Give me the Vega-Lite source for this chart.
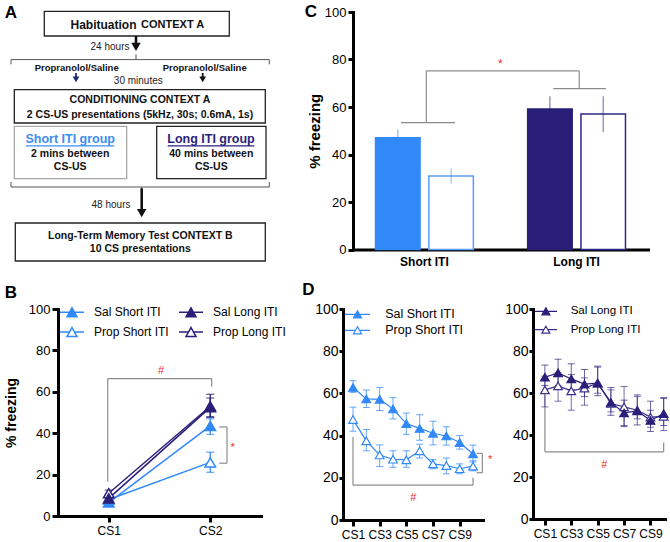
{
"$schema": "https://vega.github.io/schema/vega-lite/v6.json",
"background": "white",
"padding": {"left": 4, "top": 3, "right": 4, "bottom": 2},
"config": {
  "font": "Liberation Sans",
  "view": {"stroke": null},
  "axis": {"grid": false, "domainColor": "#000000", "domainWidth": 3, "domainCap": "square", "tickColor": "#000000", "tickWidth": 3, "tickSize": 6, "labelColor": "#000000", "titleColor": "#000000", "labelFont": "Liberation Sans", "titleFont": "Liberation Sans", "labelFlush": false, "labelOverlap": false},
  "legend": {"labelFont": "Liberation Sans", "labelColor": "#000000", "padding": 0, "symbolOpacity": 1},
  "text": {"font": "Liberation Sans"}
},
"datasets": {
  "a_boxes": [
    {"x": 43.3, "x2": 228.3, "y": 11, "y2": 35.7, "tone": "dark"},
    {"x": 13.3, "x2": 264.3, "y": 89.3, "y2": 122.7, "tone": "dark"},
    {"x": 13.3, "x2": 125.7, "y": 126, "y2": 178.3, "tone": "light"},
    {"x": 155.7, "x2": 265, "y": 126, "y2": 178.3, "tone": "dark"},
    {"x": 14.3, "x2": 264.3, "y": 222.7, "y2": 260.7, "tone": "dark"}
  ],
  "a_lines": [
    {"x": 135, "x2": 135, "y": 35.7, "y2": 43, "part": "arrow"},
    {"x": 140.7, "x2": 140.7, "y": 188, "y2": 209, "part": "arrow"},
    {"x": 10, "x2": 268.3, "y": 59.3, "y2": 59.3, "part": "brace"},
    {"x": 10, "x2": 10, "y": 59.3, "y2": 64, "part": "brace"},
    {"x": 268.3, "x2": 268.3, "y": 59.3, "y2": 64, "part": "brace"},
    {"x": 135, "x2": 135, "y": 54, "y2": 59.3, "part": "brace"},
    {"x": 10, "x2": 268.3, "y": 186.7, "y2": 186.7, "part": "brace"},
    {"x": 10, "x2": 10, "y": 181.7, "y2": 186.7, "part": "brace"},
    {"x": 268.3, "x2": 268.3, "y": 181.7, "y2": 186.7, "part": "brace"},
    {"x": 140.7, "x2": 140.7, "y": 186.7, "y2": 190, "part": "brace"},
    {"x": 75, "x2": 75, "y": 72.7, "y2": 77, "part": "navy"},
    {"x": 201.7, "x2": 201.7, "y": 72.7, "y2": 77, "part": "small"},
    {"x": 25, "x2": 113.3, "y": 145.5, "y2": 145.5, "part": "ul_short"},
    {"x": 166.7, "x2": 253.3, "y": 145.5, "y2": 145.5, "part": "ul_long"}
  ],
  "a_heads": [
    {"x": 135, "y": 46.5, "part": "big"},
    {"x": 140.7, "y": 212.8, "part": "big"},
    {"x": 75, "y": 79, "part": "navy"},
    {"x": 201.7, "y": 79, "part": "small"}
  ],
  "a_text": [
    {"x": 10, "y": 12.5, "text": "A", "style": "letter"},
    {"x": 102.5, "y": 24.5, "text": "Habituation", "style": "big"},
    {"x": 171.7, "y": 24.5, "text": "CONTEXT A", "style": "bold11"},
    {"x": 109, "y": 46.5, "text": "24 hours", "style": "plain"},
    {"x": 75.7, "y": 67.8, "text": "Propranolol/Saline", "style": "prop"},
    {"x": 203.7, "y": 67.8, "text": "Propranolol/Saline", "style": "prop"},
    {"x": 137.3, "y": 80.3, "text": "30 minutes", "style": "plain"},
    {"x": 139, "y": 100, "text": "CONDITIONING CONTEXT A", "style": "bold"},
    {"x": 139, "y": 114.5, "text": "2 CS-US presentations (5kHz, 30s; 0.6mA, 1s)", "style": "bold"},
    {"x": 69.2, "y": 139, "text": "Short ITI group", "style": "hshort"},
    {"x": 210, "y": 139, "text": "Long ITI group", "style": "hlong"},
    {"x": 69.2, "y": 154, "text": "2 mins between", "style": "bold"},
    {"x": 69.2, "y": 166.5, "text": "CS-US", "style": "bold"},
    {"x": 210.3, "y": 154, "text": "40 mins between", "style": "bold"},
    {"x": 210.3, "y": 166.5, "text": "CS-US", "style": "bold"},
    {"x": 110, "y": 205, "text": "48 hours", "style": "plain"},
    {"x": 139.3, "y": 235.8, "text": "Long-Term Memory Test CONTEXT B", "style": "bold"},
    {"x": 139.3, "y": 248.5, "text": "10 CS presentations", "style": "bold"}
  ],
  "c_bars": [
    {"group": "Short ITI", "drug": "Sal", "series": "Sal Short ITI", "mean": 47.1, "lo": 43.7, "hi": 50.5},
    {"group": "Short ITI", "drug": "Prop", "series": "Prop Short ITI", "mean": 31.0, "lo": 27.8, "hi": 34.1},
    {"group": "Long ITI", "drug": "Sal", "series": "Sal Long ITI", "mean": 59.2, "lo": 53.7, "hi": 64.5},
    {"group": "Long ITI", "drug": "Prop", "series": "Prop Long ITI", "mean": 57.1, "lo": 49.5, "hi": 64.5}
  ],
  "c_brackets": [
    {"x": 0.325, "x2": 0.692, "y": 53.4, "y2": 53.4},
    {"x": 0.497, "x2": 0.497, "y": 53.4, "y2": 75.2},
    {"x": 0.497, "x2": 1.534, "y": 75.2, "y2": 75.2},
    {"x": 1.534, "x2": 1.534, "y": 75.2, "y2": 67.7},
    {"x": 1.358, "x2": 1.715, "y": 67.7, "y2": 67.7}
  ],
  "c_notes": [{"x": 0.999, "y": 78.2, "text": "*"}],
  "c_letter": [{"x": -0.285, "y": 100, "text": "C"}],
  "b_series": [
    {"series": "Prop Short ITI", "x": 1, "y": 8, "lo": 6.5, "hi": 9.5},
    {"series": "Prop Short ITI", "x": 2, "y": 25.9, "lo": 21.1, "hi": 30.8},
    {"series": "Prop Long ITI", "x": 1, "y": 11, "lo": 9, "hi": 12.5},
    {"series": "Prop Long ITI", "x": 2, "y": 53, "lo": 48, "hi": 57},
    {"series": "Sal Short ITI", "x": 1, "y": 6.5, "lo": 5, "hi": 8},
    {"series": "Sal Short ITI", "x": 2, "y": 43.5, "lo": 39.4, "hi": 47},
    {"series": "Sal Long ITI", "x": 1, "y": 8.5, "lo": 7, "hi": 10},
    {"series": "Sal Long ITI", "x": 2, "y": 52.5, "lo": 47.6, "hi": 58.8}
  ],
  "b_brackets": [
    {"x": 0.99, "x2": 0.99, "y": 16.5, "y2": 66.4},
    {"x": 0.99, "x2": 2.014, "y": 66.4, "y2": 66.4},
    {"x": 2.014, "x2": 2.014, "y": 66.4, "y2": 62.4},
    {"x": 2.089, "x2": 2.165, "y": 43, "y2": 43},
    {"x": 2.165, "x2": 2.165, "y": 43, "y2": 25.5},
    {"x": 2.089, "x2": 2.165, "y": 25.5, "y2": 25.5}
  ],
  "b_notes": [{"x": 1.515, "y": 70, "text": "#"}, {"x": 2.221, "y": 33, "text": "*"}],
  "b_letter": [{"x": 0.037, "y": 107.5, "text": "B"}],
  "dl_series": [
    {"series": "Prop Short ITI", "x": 1, "y": 47.6, "lo": 42.1, "hi": 53.5},
    {"series": "Prop Short ITI", "x": 2, "y": 37.5, "lo": 32.8, "hi": 42.9},
    {"series": "Prop Short ITI", "x": 3, "y": 30.8, "lo": 25.3, "hi": 35.6},
    {"series": "Prop Short ITI", "x": 4, "y": 28.8, "lo": 25.0, "hi": 32.8},
    {"series": "Prop Short ITI", "x": 5, "y": 28.5, "lo": 25.0, "hi": 32.8},
    {"series": "Prop Short ITI", "x": 6, "y": 32.8, "lo": 29.4, "hi": 35.9},
    {"series": "Prop Short ITI", "x": 7, "y": 26.6, "lo": 24.3, "hi": 28.6},
    {"series": "Prop Short ITI", "x": 8, "y": 25.8, "lo": 21.9, "hi": 29.4},
    {"series": "Prop Short ITI", "x": 9, "y": 24.3, "lo": 21.9, "hi": 26.6},
    {"series": "Prop Short ITI", "x": 10, "y": 25.5, "lo": 23.3, "hi": 28.1},
    {"series": "Sal Short ITI", "x": 1, "y": 62.8, "lo": 60.5, "hi": 66},
    {"series": "Sal Short ITI", "x": 2, "y": 57.4, "lo": 53.3, "hi": 61.6},
    {"series": "Sal Short ITI", "x": 3, "y": 57.2, "lo": 51.9, "hi": 62.8},
    {"series": "Sal Short ITI", "x": 4, "y": 52.6, "lo": 47.9, "hi": 58},
    {"series": "Sal Short ITI", "x": 5, "y": 45.7, "lo": 40.6, "hi": 50.7},
    {"series": "Sal Short ITI", "x": 6, "y": 43.4, "lo": 37.8, "hi": 49.9},
    {"series": "Sal Short ITI", "x": 7, "y": 41.1, "lo": 35.6, "hi": 46.8},
    {"series": "Sal Short ITI", "x": 8, "y": 39.8, "lo": 35.5, "hi": 44.2},
    {"series": "Sal Short ITI", "x": 9, "y": 36.7, "lo": 33.6, "hi": 40.1},
    {"series": "Sal Short ITI", "x": 10, "y": 31.3, "lo": 27.4, "hi": 35.5}
  ],
  "dl_brackets": [
    {"x": 1, "x2": 1, "y": 39.3, "y2": 16.5},
    {"x": 1, "x2": 10, "y": 16.5, "y2": 16.5},
    {"x": 10, "x2": 10, "y": 16.5, "y2": 20},
    {"x": 10.27, "x2": 10.7, "y": 31.6, "y2": 31.6},
    {"x": 10.7, "x2": 10.7, "y": 31.6, "y2": 22.4},
    {"x": 10.27, "x2": 10.7, "y": 22.4, "y2": 22.4}
  ],
  "dl_notes": [{"x": 5.52, "y": 10.3, "text": "#"}, {"x": 11.28, "y": 28.5, "text": "*"}],
  "dl_letter": [{"x": -2.34, "y": 108.8, "text": "D"}],
  "dr_series": [
    {"series": "Prop Long ITI", "x": 1, "y": 61.5, "lo": 53.4, "hi": 68},
    {"series": "Prop Long ITI", "x": 2, "y": 63.4, "lo": 56.1, "hi": 69.6},
    {"series": "Prop Long ITI", "x": 3, "y": 61, "lo": 51.8, "hi": 68.8},
    {"series": "Prop Long ITI", "x": 4, "y": 62.3, "lo": 54.2, "hi": 67.2},
    {"series": "Prop Long ITI", "x": 5, "y": 64.7, "lo": 59.9, "hi": 72.3},
    {"series": "Prop Long ITI", "x": 6, "y": 55, "lo": 51, "hi": 61.5},
    {"series": "Prop Long ITI", "x": 7, "y": 53.4, "lo": 44.5, "hi": 63.1},
    {"series": "Prop Long ITI", "x": 8, "y": 51.8, "lo": 47.7, "hi": 58.3},
    {"series": "Prop Long ITI", "x": 9, "y": 48.5, "lo": 43.7, "hi": 56.1},
    {"series": "Prop Long ITI", "x": 10, "y": 48.9, "lo": 42.1, "hi": 57.4},
    {"series": "Sal Long ITI", "x": 1, "y": 67.5, "lo": 63.6, "hi": 73.3},
    {"series": "Sal Long ITI", "x": 2, "y": 69.6, "lo": 63.6, "hi": 76.1},
    {"series": "Sal Long ITI", "x": 3, "y": 66.7, "lo": 61.5, "hi": 73.9},
    {"series": "Sal Long ITI", "x": 4, "y": 64.2, "lo": 58.3, "hi": 71.2},
    {"series": "Sal Long ITI", "x": 5, "y": 64.7, "lo": 58.7, "hi": 72.8},
    {"series": "Sal Long ITI", "x": 6, "y": 55.5, "lo": 49.4, "hi": 62.6},
    {"series": "Sal Long ITI", "x": 7, "y": 50.5, "lo": 44, "hi": 56.6},
    {"series": "Sal Long ITI", "x": 8, "y": 51.5, "lo": 44.8, "hi": 59.1},
    {"series": "Sal Long ITI", "x": 9, "y": 46.9, "lo": 41.7, "hi": 51.8},
    {"series": "Sal Long ITI", "x": 10, "y": 50.2, "lo": 44.5, "hi": 57.8}
  ],
  "dr_brackets": [
    {"x": 1, "x2": 1, "y": 59.1, "y2": 32},
    {"x": 1, "x2": 10, "y": 32, "y2": 32},
    {"x": 10, "x2": 10, "y": 32, "y2": 36.4}
  ],
  "dr_notes": [{"x": 5.5, "y": 25.9, "text": "#"}],
  "spacer": [{"k": 0}]
},
"vconcat": [
  {
    "hconcat": [
      {
        "width": 295, "height": 237.5,
        "encoding": {
          "x": {"field": "x", "type": "quantitative", "scale": {"domain": [57, 352], "nice": false, "zero": false}, "axis": null},
          "y": {"field": "y", "type": "quantitative", "scale": {"domain": [11.7, 249.2], "nice": false, "zero": false, "reverse": true}, "axis": null}
        },
        "layer": [
          {"data": {"name": "a_boxes"}, "transform": [{"filter": "datum.tone == 'dark'"}], "mark": {"type": "rect", "fill": "#ffffff", "stroke": "#222222", "strokeWidth": 1.3}, "encoding": {"x2": {"field": "x2"}, "y2": {"field": "y2"}}},
          {"data": {"name": "a_boxes"}, "transform": [{"filter": "datum.tone == 'light'"}], "mark": {"type": "rect", "fill": "#ffffff", "stroke": "#a8a8a8", "strokeWidth": 1.3}, "encoding": {"x2": {"field": "x2"}, "y2": {"field": "y2"}}},
          {"data": {"name": "a_lines"}, "transform": [{"filter": "datum.part == 'brace'"}], "mark": {"type": "rule", "color": "#555555", "strokeWidth": 1}, "encoding": {"x2": {"field": "x2"}, "y2": {"field": "y2"}}},
          {"data": {"name": "a_lines"}, "transform": [{"filter": "datum.part == 'arrow'"}], "mark": {"type": "rule", "color": "#111111", "strokeWidth": 2.6}, "encoding": {"x2": {"field": "x2"}, "y2": {"field": "y2"}}},
          {"data": {"name": "a_lines"}, "transform": [{"filter": "datum.part == 'navy'"}], "mark": {"type": "rule", "color": "#1f2a6e", "strokeWidth": 1.8}, "encoding": {"x2": {"field": "x2"}, "y2": {"field": "y2"}}},
          {"data": {"name": "a_lines"}, "transform": [{"filter": "datum.part == 'small'"}], "mark": {"type": "rule", "color": "#111111", "strokeWidth": 1.8}, "encoding": {"x2": {"field": "x2"}, "y2": {"field": "y2"}}},
          {"data": {"name": "a_lines"}, "transform": [{"filter": "datum.part == 'ul_short'"}], "mark": {"type": "rule", "color": "#3a8ef0", "strokeWidth": 1.2}, "encoding": {"x2": {"field": "x2"}, "y2": {"field": "y2"}}},
          {"data": {"name": "a_lines"}, "transform": [{"filter": "datum.part == 'ul_long'"}], "mark": {"type": "rule", "color": "#2a1f7a", "strokeWidth": 1.2}, "encoding": {"x2": {"field": "x2"}, "y2": {"field": "y2"}}},
          {"data": {"name": "a_heads"}, "transform": [{"filter": "datum.part == 'big'"}], "mark": {"type": "point", "shape": "triangle-down", "size": 90, "filled": true, "color": "#111111", "opacity": 1, "strokeWidth": 0}},
          {"data": {"name": "a_heads"}, "transform": [{"filter": "datum.part == 'small'"}], "mark": {"type": "point", "shape": "triangle-down", "size": 45, "filled": true, "color": "#111111", "opacity": 1, "strokeWidth": 0}},
          {"data": {"name": "a_heads"}, "transform": [{"filter": "datum.part == 'navy'"}], "mark": {"type": "point", "shape": "triangle-down", "size": 45, "filled": true, "color": "#1f2a6e", "opacity": 1, "strokeWidth": 0}},
          {"data": {"name": "a_text"}, "transform": [{"filter": "datum.style == 'letter'"}], "mark": {"type": "text", "fontSize": 17, "fontWeight": "bold", "color": "#000000", "baseline": "middle"}, "encoding": {"text": {"field": "text"}}},
          {"data": {"name": "a_text"}, "transform": [{"filter": "datum.style == 'big'"}], "mark": {"type": "text", "fontSize": 12, "fontWeight": "bold", "color": "#111111", "baseline": "middle"}, "encoding": {"text": {"field": "text"}}},
          {"data": {"name": "a_text"}, "transform": [{"filter": "datum.style == 'bold11'"}], "mark": {"type": "text", "fontSize": 11, "fontWeight": "bold", "color": "#111111", "baseline": "middle"}, "encoding": {"text": {"field": "text"}}},
          {"data": {"name": "a_text"}, "transform": [{"filter": "datum.style == 'bold'"}], "mark": {"type": "text", "fontSize": 10.5, "fontWeight": "bold", "color": "#111111", "baseline": "middle"}, "encoding": {"text": {"field": "text"}}},
          {"data": {"name": "a_text"}, "transform": [{"filter": "datum.style == 'plain'"}], "mark": {"type": "text", "fontSize": 10, "color": "#222222", "baseline": "middle"}, "encoding": {"text": {"field": "text"}}},
          {"data": {"name": "a_text"}, "transform": [{"filter": "datum.style == 'prop'"}], "mark": {"type": "text", "fontSize": 9.5, "fontWeight": "bold", "color": "#111111", "baseline": "middle"}, "encoding": {"text": {"field": "text"}}},
          {"data": {"name": "a_text"}, "transform": [{"filter": "datum.style == 'hshort'"}], "mark": {"type": "text", "fontSize": 12.5, "fontWeight": "bold", "color": "#3a8ef0", "baseline": "middle"}, "encoding": {"text": {"field": "text"}}},
          {"data": {"name": "a_text"}, "transform": [{"filter": "datum.style == 'hlong'"}], "mark": {"type": "text", "fontSize": 12.5, "fontWeight": "bold", "color": "#2a1f7a", "baseline": "middle"}, "encoding": {"text": {"field": "text"}}}
        ]
      },
      {
        "width": 295, "height": 237.5,
        "layer": [
          {
            "data": {"name": "c_bars"},
            "encoding": {
              "x": {"field": "group", "type": "nominal", "sort": ["Short ITI", "Long ITI"], "scale": {"paddingInner": 0.357, "paddingOuter": 0.148}, "axis": {"title": null, "ticks": false, "labelAngle": 0, "labelFontSize": 12, "labelFontWeight": "bold", "labelPadding": 7}},
              "xOffset": {"field": "drug", "type": "nominal", "sort": ["Sal", "Prop"], "scale": {"paddingInner": 0.164}}
            },
            "layer": [
              {"mark": {"type": "bar", "strokeWidth": 1.5},
               "encoding": {
                 "y": {"field": "mean", "type": "quantitative", "scale": {"domain": [0, 100], "nice": false, "zero": false}, "axis": {"values": [0, 20, 40, 60, 80, 100], "title": "% freezing", "titleFontSize": 15, "titleFontWeight": "bold", "titlePadding": 2, "labelFontSize": 13, "labelPadding": 2, "tickSize": 5}},
                 "fill": {"field": "series", "type": "nominal", "scale": {"domain": ["Sal Short ITI", "Prop Short ITI", "Sal Long ITI", "Prop Long ITI"], "range": ["#3189f8", "#ffffff", "#291f78", "#ffffff"]}, "legend": null},
                 "stroke": {"field": "series", "type": "nominal", "scale": {"domain": ["Sal Short ITI", "Prop Short ITI", "Sal Long ITI", "Prop Long ITI"], "range": ["#3189f8", "#5a9ef5", "#291f78", "#2f2a88"]}, "legend": null}
               }},
              {"mark": {"type": "rule", "strokeWidth": 1.2, "opacity": 0.6},
               "encoding": {
                 "y": {"field": "lo", "type": "quantitative", "scale": {"domain": [0, 100], "nice": false, "zero": false}, "title": "% freezing"},
                 "y2": {"field": "hi"},
                 "stroke": {"field": "series", "type": "nominal", "scale": {"domain": ["Sal Short ITI", "Prop Short ITI", "Sal Long ITI", "Prop Long ITI"], "range": ["#3189f8", "#5a9ef5", "#291f78", "#2f2a88"]}, "legend": null}
               }}
            ]
          },
          {
            "encoding": {
              "x": {"field": "x", "type": "quantitative", "scale": {"domain": [0, 2], "nice": false, "zero": false}, "axis": null},
              "y": {"field": "y", "type": "quantitative", "scale": {"domain": [0, 100], "nice": false, "zero": false}, "title": "% freezing"}
            },
            "layer": [
              {"data": {"name": "c_brackets"}, "mark": {"type": "rule", "color": "#8c8c8c", "strokeWidth": 1.2}, "encoding": {"x2": {"field": "x2"}, "y2": {"field": "y2"}}},
              {"data": {"name": "c_notes"}, "mark": {"type": "text", "color": "#ee2b2b", "fontSize": 12, "baseline": "middle"}, "encoding": {"text": {"field": "text"}}},
              {"data": {"name": "c_letter"}, "mark": {"type": "text", "color": "#000000", "fontSize": 17, "fontWeight": "bold", "baseline": "middle"}, "encoding": {"text": {"field": "text"}}}
            ]
          }
        ],
        "resolve": {"scale": {"x": "independent"}, "axis": {"x": "independent"}}
      }
    ],
    "spacing": 0,
    "bounds": "flush",
    "resolve": {"scale": {"color": "independent", "fill": "independent", "stroke": "independent"}, "legend": {"color": "independent", "fill": "independent", "stroke": "independent"}}
  },
  {
    "hconcat": [
      {
        "width": 203, "height": 207,
        "encoding": {
          "x": {"field": "x", "type": "quantitative", "scale": {"domain": [0.5, 2.5], "nice": false, "zero": false}, "axis": {"values": [1, 2], "labelExpr": "'CS' + datum.value", "title": null, "labelFontSize": 12, "labelPadding": 3, "tickSize": 6}},
          "y": {"field": "y", "type": "quantitative", "scale": {"domain": [0, 100], "nice": false, "zero": false}, "axis": {"values": [0, 20, 40, 60, 80, 100], "title": "% freezing", "titleFontSize": 14, "titleFontWeight": "bold", "titlePadding": 10, "labelFontSize": 13, "labelPadding": 2, "tickSize": 6}}
        },
        "layer": [
          {"data": {"name": "b_brackets"}, "mark": {"type": "rule", "color": "#8c8c8c", "strokeWidth": 1.2}, "encoding": {"x2": {"field": "x2"}, "y2": {"field": "y2"}}},
          {"data": {"name": "b_notes"}, "mark": {"type": "text", "color": "#ee2b2b", "fontSize": 11, "baseline": "middle"}, "encoding": {"text": {"field": "text"}}},
          {"data": {"name": "b_letter"}, "mark": {"type": "text", "color": "#000000", "fontSize": 17, "fontWeight": "bold", "baseline": "middle"}, "encoding": {"text": {"field": "text"}}},
          {"data": {"name": "b_series"}, "mark": {"type": "rule", "strokeWidth": 1.3},
           "encoding": {"y": {"field": "lo", "type": "quantitative", "scale": {"domain": [0, 100], "nice": false, "zero": false}, "title": "% freezing"}, "y2": {"field": "hi"},
                        "stroke": {"field": "series", "type": "nominal", "scale": {"domain": ["Sal Short ITI", "Prop Short ITI", "Sal Long ITI", "Prop Long ITI"], "range": ["#3189f8", "#3189f8", "#291f78", "#291f78"]}}}},
          {"data": {"name": "b_series"}, "mark": {"type": "tick", "orient": "horizontal", "size": 8, "thickness": 1.3},
           "encoding": {"y": {"field": "lo", "type": "quantitative", "scale": {"domain": [0, 100], "nice": false, "zero": false}, "title": "% freezing"},
                        "color": {"field": "series", "type": "nominal", "scale": {"domain": ["Prop Long ITI", "Sal Long ITI", "Prop Short ITI", "Sal Short ITI"], "range": ["#291f78", "#291f78", "#3189f8", "#3189f8"]}, "legend": null}}},
          {"data": {"name": "b_series"}, "mark": {"type": "tick", "orient": "horizontal", "size": 8, "thickness": 1.3},
           "encoding": {"y": {"field": "hi", "type": "quantitative", "scale": {"domain": [0, 100], "nice": false, "zero": false}, "title": "% freezing"},
                        "color": {"field": "series", "type": "nominal", "scale": {"domain": ["Prop Long ITI", "Sal Long ITI", "Prop Short ITI", "Sal Short ITI"], "range": ["#291f78", "#291f78", "#3189f8", "#3189f8"]}, "legend": null}}},
          {"data": {"name": "b_series"}, "mark": {"type": "line", "strokeWidth": 1.5},
           "encoding": {"stroke": {"field": "series", "type": "nominal", "scale": {"domain": ["Sal Short ITI", "Prop Short ITI", "Sal Long ITI", "Prop Long ITI"], "range": ["#3189f8", "#3189f8", "#291f78", "#291f78"]}}}},
          {"data": {"name": "b_series"}, "mark": {"type": "point", "shape": "triangle-up", "size": 110, "strokeWidth": 1.5, "opacity": 1, "filled": true},
           "encoding": {
             "stroke": {"field": "series", "type": "nominal", "scale": {"domain": ["Sal Short ITI", "Prop Short ITI", "Sal Long ITI", "Prop Long ITI"], "range": ["#3189f8", "#3189f8", "#291f78", "#291f78"]},
                        "legend": {"title": null, "orient": "none", "legendX": 5, "legendY": -6, "columns": 2, "columnPadding": 7, "rowPadding": 3, "symbolType": "M-1.5,0H-0.31M0.31,0H1.5M0,-0.56L0.625,0.56L-0.625,0.56Z", "symbolSize": 256, "symbolStrokeWidth": 1.5, "labelFontSize": 12, "labelOffset": 13}},
             "fill": {"field": "series", "type": "nominal", "scale": {"domain": ["Sal Short ITI", "Prop Short ITI", "Sal Long ITI", "Prop Long ITI"], "range": ["#3189f8", "#ffffff", "#291f78", "#ffffff"]},
                      "legend": {"title": null, "orient": "none", "legendX": 5, "legendY": -6, "columns": 2, "columnPadding": 7, "rowPadding": 3, "symbolType": "M-1.5,0H-0.31M0.31,0H1.5M0,-0.56L0.625,0.56L-0.625,0.56Z", "symbolSize": 256, "symbolStrokeWidth": 1.5, "labelFontSize": 12, "labelOffset": 13}}
           }}
        ]
      },
      {"width": 82, "height": 1, "data": {"name": "spacer"}, "mark": {"type": "point", "opacity": 0}},
      {
        "width": 140, "height": 211,
        "encoding": {
          "x": {"field": "x", "type": "quantitative", "scale": {"domain": [0.25, 10.75], "nice": false, "zero": false}, "axis": {"values": [1, 3, 5, 7, 9], "labelExpr": "'CS' + datum.value", "title": null, "labelFontSize": 12, "labelPadding": 3, "tickSize": 6}},
          "y": {"field": "y", "type": "quantitative", "scale": {"domain": [0, 100], "nice": false, "zero": false}, "axis": {"values": [0, 20, 40, 60, 80, 100], "title": null, "labelFontSize": 14, "labelPadding": 1, "tickSize": 4}}
        },
        "layer": [
          {"data": {"name": "dl_brackets"}, "mark": {"type": "rule", "color": "#8c8c8c", "strokeWidth": 1.2}, "encoding": {"x2": {"field": "x2"}, "y2": {"field": "y2"}}},
          {"data": {"name": "dl_notes"}, "mark": {"type": "text", "color": "#ee2b2b", "fontSize": 11, "baseline": "middle"}, "encoding": {"text": {"field": "text"}}},
          {"data": {"name": "dl_letter"}, "mark": {"type": "text", "color": "#000000", "fontSize": 17, "fontWeight": "bold", "baseline": "middle"}, "encoding": {"text": {"field": "text"}}},
          {"data": {"name": "dl_series"}, "mark": {"type": "rule", "strokeWidth": 1, "opacity": 0.75},
           "encoding": {"y": {"field": "lo", "type": "quantitative", "scale": {"domain": [0, 100], "nice": false, "zero": false}, "title": null}, "y2": {"field": "hi"},
                        "stroke": {"field": "series", "type": "nominal", "scale": {"domain": ["Sal Short ITI", "Prop Short ITI"], "range": ["#3189f8", "#3189f8"]}}}},
          {"data": {"name": "dl_series"}, "mark": {"type": "tick", "orient": "horizontal", "size": 7, "thickness": 1, "opacity": 0.75},
           "encoding": {"y": {"field": "lo", "type": "quantitative", "scale": {"domain": [0, 100], "nice": false, "zero": false}, "title": null},
                        "color": {"field": "series", "type": "nominal", "scale": {"domain": ["Prop Short ITI", "Sal Short ITI"], "range": ["#3189f8", "#3189f8"]}, "legend": null}}},
          {"data": {"name": "dl_series"}, "mark": {"type": "tick", "orient": "horizontal", "size": 7, "thickness": 1, "opacity": 0.75},
           "encoding": {"y": {"field": "hi", "type": "quantitative", "scale": {"domain": [0, 100], "nice": false, "zero": false}, "title": null},
                        "color": {"field": "series", "type": "nominal", "scale": {"domain": ["Prop Short ITI", "Sal Short ITI"], "range": ["#3189f8", "#3189f8"]}, "legend": null}}},
          {"data": {"name": "dl_series"}, "mark": {"type": "line", "strokeWidth": 1.2},
           "encoding": {"stroke": {"field": "series", "type": "nominal", "scale": {"domain": ["Sal Short ITI", "Prop Short ITI"], "range": ["#3189f8", "#3189f8"]}}}},
          {"data": {"name": "dl_series"}, "mark": {"type": "point", "shape": "triangle-up", "size": 75, "strokeWidth": 1.2, "opacity": 1, "filled": true},
           "encoding": {
             "stroke": {"field": "series", "type": "nominal", "scale": {"domain": ["Sal Short ITI", "Prop Short ITI"], "range": ["#3189f8", "#3189f8"]},
                        "legend": {"title": null, "orient": "none", "legendX": 6.5, "legendY": -2.7, "direction": "vertical", "rowPadding": 1, "symbolType": "M-1.8,0H-0.29M0.29,0H1.8M0,-0.5L0.57,0.5L-0.57,0.5Z", "symbolSize": 196, "symbolStrokeWidth": 1.2, "labelFontSize": 12.5, "labelOffset": 19.7}},
             "fill": {"field": "series", "type": "nominal", "scale": {"domain": ["Sal Short ITI", "Prop Short ITI"], "range": ["#3189f8", "#ffffff"]},
                      "legend": {"title": null, "orient": "none", "legendX": 6.5, "legendY": -2.7, "direction": "vertical", "rowPadding": 1, "symbolType": "M-1.8,0H-0.29M0.29,0H1.8M0,-0.5L0.57,0.5L-0.57,0.5Z", "symbolSize": 196, "symbolStrokeWidth": 1.2, "labelFontSize": 12.5, "labelOffset": 19.7}}
           }}
        ]
      },
      {"width": 50, "height": 1, "data": {"name": "spacer"}, "mark": {"type": "point", "opacity": 0}},
      {
        "width": 132, "height": 210,
        "encoding": {
          "x": {"field": "x", "type": "quantitative", "scale": {"domain": [0.1, 10.1], "nice": false, "zero": false}, "axis": {"values": [1, 3, 5, 7, 9], "labelExpr": "'CS' + datum.value", "title": null, "labelFontSize": 12, "labelPadding": 3, "tickSize": 6}},
          "y": {"field": "y", "type": "quantitative", "scale": {"domain": [0, 100], "nice": false, "zero": false}, "axis": {"values": [0, 20, 40, 60, 80, 100], "title": null, "labelFontSize": 14, "labelPadding": 1, "tickSize": 4}}
        },
        "layer": [
          {"data": {"name": "dr_brackets"}, "mark": {"type": "rule", "color": "#8c8c8c", "strokeWidth": 1.2}, "encoding": {"x2": {"field": "x2"}, "y2": {"field": "y2"}}},
          {"data": {"name": "dr_notes"}, "mark": {"type": "text", "color": "#ee2b2b", "fontSize": 11, "baseline": "middle"}, "encoding": {"text": {"field": "text"}}},
          {"data": {"name": "dr_series"}, "mark": {"type": "rule", "strokeWidth": 1, "opacity": 0.7},
           "encoding": {"y": {"field": "lo", "type": "quantitative", "scale": {"domain": [0, 100], "nice": false, "zero": false}, "title": null}, "y2": {"field": "hi"},
                        "stroke": {"field": "series", "type": "nominal", "scale": {"domain": ["Sal Long ITI", "Prop Long ITI"], "range": ["#291f78", "#3a3490"]}}}},
          {"data": {"name": "dr_series"}, "mark": {"type": "tick", "orient": "horizontal", "size": 7, "thickness": 1, "opacity": 0.7},
           "encoding": {"y": {"field": "lo", "type": "quantitative", "scale": {"domain": [0, 100], "nice": false, "zero": false}, "title": null},
                        "color": {"field": "series", "type": "nominal", "scale": {"domain": ["Prop Long ITI", "Sal Long ITI"], "range": ["#3a3490", "#291f78"]}, "legend": null}}},
          {"data": {"name": "dr_series"}, "mark": {"type": "tick", "orient": "horizontal", "size": 7, "thickness": 1, "opacity": 0.7},
           "encoding": {"y": {"field": "hi", "type": "quantitative", "scale": {"domain": [0, 100], "nice": false, "zero": false}, "title": null},
                        "color": {"field": "series", "type": "nominal", "scale": {"domain": ["Prop Long ITI", "Sal Long ITI"], "range": ["#3a3490", "#291f78"]}, "legend": null}}},
          {"data": {"name": "dr_series"}, "mark": {"type": "line", "strokeWidth": 1.2},
           "encoding": {"stroke": {"field": "series", "type": "nominal", "scale": {"domain": ["Sal Long ITI", "Prop Long ITI"], "range": ["#291f78", "#3a3490"]}}}},
          {"data": {"name": "dr_series"}, "mark": {"type": "point", "shape": "triangle-up", "size": 75, "strokeWidth": 1.2, "opacity": 1, "filled": true},
           "encoding": {
             "stroke": {"field": "series", "type": "nominal", "scale": {"domain": ["Sal Long ITI", "Prop Long ITI"], "range": ["#291f78", "#3a3490"]},
                        "legend": {"title": null, "orient": "none", "legendX": 4.9, "legendY": -5.7, "direction": "vertical", "rowPadding": 4.4, "symbolType": "M-1.6,0H-0.29M0.29,0H1.6M0,-0.5L0.57,0.5L-0.57,0.5Z", "symbolSize": 196, "symbolStrokeWidth": 1.2, "labelFontSize": 11.5, "labelOffset": 16.8}},
             "fill": {"field": "series", "type": "nominal", "scale": {"domain": ["Sal Long ITI", "Prop Long ITI"], "range": ["#291f78", "#ffffff"]},
                      "legend": {"title": null, "orient": "none", "legendX": 4.9, "legendY": -5.7, "direction": "vertical", "rowPadding": 4.4, "symbolType": "M-1.6,0H-0.29M0.29,0H1.6M0,-0.5L0.57,0.5L-0.57,0.5Z", "symbolSize": 196, "symbolStrokeWidth": 1.2, "labelFontSize": 11.5, "labelOffset": 16.8}}
           }}
        ]
      }
    ],
    "spacing": 0,
    "bounds": "flush",
    "resolve": {"scale": {"color": "independent", "fill": "independent", "stroke": "independent"}, "legend": {"color": "independent", "fill": "independent", "stroke": "independent"}}
  }
],
"spacing": 13,
"resolve": {
  "scale": {"color": "independent", "fill": "independent", "stroke": "independent"},
  "legend": {"color": "independent", "fill": "independent", "stroke": "independent"}
}
}
